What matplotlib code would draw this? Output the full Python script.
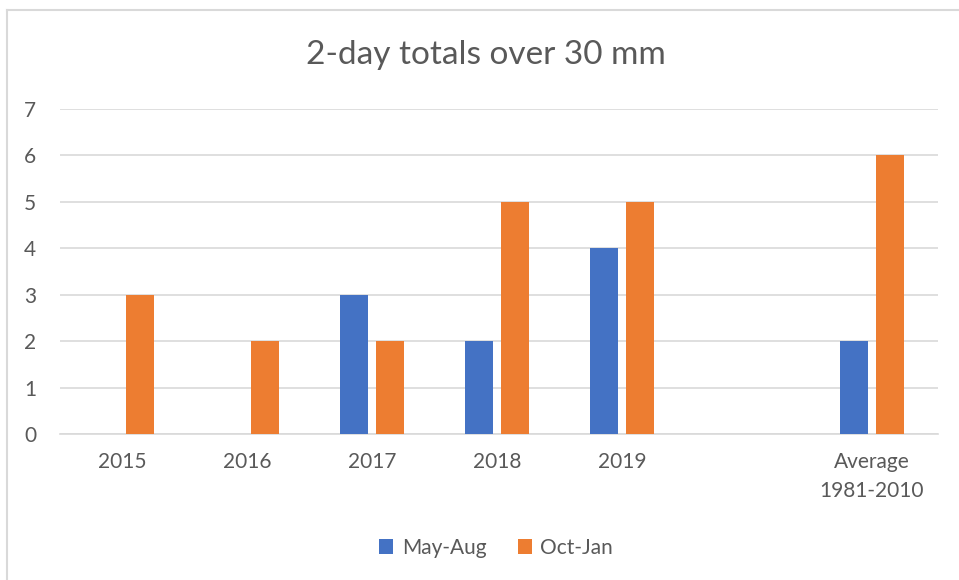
import numpy as np
import matplotlib.pyplot as plt
from matplotlib.lines import Line2D

# ---- data ----
categories = ['2015', '2016', '2017', '2018', '2019', '', 'Average\n1981-2010']
may_aug = [0, 0, 3, 2, 4, 0, 2]
oct_jan = [3, 2, 2, 5, 5, 0, 6]
yticks = [0, 1, 2, 3, 4, 5, 6, 7]

blue = '#4472C4'
orange = '#ED7D31'
txt = '#595959'
grid = '#D9D9D9'

plt.rcParams['font.family'] = ['Lato', 'DejaVu Sans']

W, H = 959, 580
fig = plt.figure(figsize=(W / 100, H / 100), dpi=100)
ax = fig.add_axes([60 / W, 1 - 434 / H, 878 / W, 325 / H])

x = np.arange(len(categories))
bw = 0.224
off = 0.144
ax.bar(x - off, may_aug, bw, color=blue, label='May-Aug', zorder=3)
ax.bar(x + off, oct_jan, bw, color=orange, label='Oct-Jan', zorder=3)

ax.set_xlim(-0.5, len(categories) - 0.5 + 0.03)
ax.set_ylim(0, 7)
ax.set_yticks(yticks)
ax.set_xticks(x)
ax.set_xticklabels(categories, linespacing=1.55)
ax.yaxis.grid(True, color=grid, linewidth=1.2, zorder=0)
for s in ['top', 'right', 'left']:
    ax.spines[s].set_visible(False)
ax.spines['bottom'].set_color(grid)
ax.spines['bottom'].set_linewidth(1.2)
ax.tick_params(axis='both', length=0, labelsize=15, labelcolor=txt)
ax.tick_params(axis='y', pad=17)
ax.tick_params(axis='x', pad=13)

fig.text(486 / W, 1 - 55 / H, '2-day totals over 30 mm', ha='center', va='center',
         fontsize=24, color=txt)

ax.legend(loc='center', bbox_to_anchor=(496 / W, 1 - 548 / H), bbox_transform=fig.transFigure,
          ncol=2, frameon=False, fontsize=15, labelcolor=txt, handlelength=0.7,
          handleheight=0.7, handletextpad=0.4, columnspacing=1.5)

# chart border (only left and top edges are visible in the frame)
fig.add_artist(Line2D([7 / W, 7 / W], [0, 1 - 10 / H], transform=fig.transFigure,
                      color=grid, linewidth=1.5))
fig.add_artist(Line2D([7 / W, 1], [1 - 10 / H, 1 - 10 / H], transform=fig.transFigure,
                      color=grid, linewidth=1.5))

fig.savefig('out.png', dpi=100)
